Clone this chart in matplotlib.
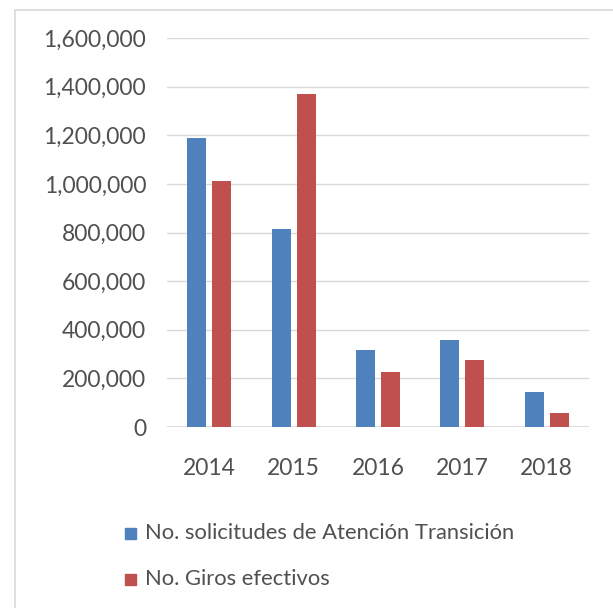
import matplotlib
matplotlib.use("Agg")
import matplotlib.pyplot as plt
from matplotlib.patches import Rectangle
from matplotlib.ticker import FuncFormatter
import numpy as np

years = ["2014", "2015", "2016", "2017", "2018"]
solicitudes = [1189000, 814000, 317000, 359000, 143000]
giros = [1012000, 1370000, 227000, 274000, 58000]
series_names = ["No. solicitudes de Atención Transición", "No. Giros efectivos"]
colors = ["#4F81BD", "#C0504D"]
yticks = [0, 200000, 400000, 600000, 800000, 1000000, 1200000, 1400000, 1600000]

plt.rcParams["font.family"] = ["Lato", "DejaVu Sans"]
text_color = "#505050"

fig = plt.figure(figsize=(6.13, 6.08), dpi=100)
W, H = 613, 608

# outer chart-area frame
fig.patches.append(Rectangle((15 / W, -0.01), 1.02, 1 - 9.5 / H + 0.01,
                             transform=fig.transFigure, fill=False,
                             edgecolor="#D9D9D9", linewidth=1.2))

ax = fig.add_axes([167 / W, 1 - 427 / H, (589 - 167) / W, (427 - 38) / H])
x = np.arange(len(years))
w = 0.226
off = 0.148
ax.bar(x - off, solicitudes, w, color=colors[0], label=series_names[0], zorder=3)
ax.bar(x + off, giros, w, color=colors[1], label=series_names[1], zorder=3)

ax.set_xlim(-0.5, len(years) - 0.5)
ax.set_ylim(0, 1600000)
ax.set_yticks(yticks)
ax.yaxis.set_major_formatter(FuncFormatter(lambda v, p: f"{int(v):,}"))
ax.set_xticks(x)
ax.set_xticklabels(years)
ax.grid(axis="y", color="#D9D9D9", linewidth=1, zorder=0)
for s in ax.spines.values():
    s.set_visible(False)
ax.axhline(0, color="#D9D9D9", linewidth=1.2, zorder=2)
ax.tick_params(axis="both", length=0, labelsize=16.5, colors=text_color)
ax.tick_params(axis="y", pad=15)
ax.tick_params(axis="x", pad=22)

# legend entries stacked below the plot
for i, (name, c) in enumerate(zip(series_names, colors)):
    yc = 1 - (533 + i * 46) / H
    fig.patches.append(Rectangle((125 / W, yc - 5.5 / H), 11 / W, 11 / H,
                                 transform=fig.transFigure, color=c))
    fig.text(145 / W, yc, name, fontsize=15.8, color=text_color,
             va="center", ha="left")

fig.savefig("out.png", dpi=100)
